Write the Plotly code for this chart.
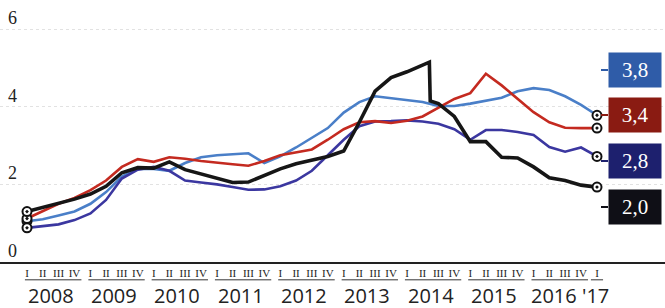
import pandas as pd
import plotly.graph_objects as go

# ---------------- data ----------------
quarters = pd.date_range("2008-01-01", "2017-01-01", freq="QS")  # 2008 Q1 .. 2017 Q1
quarter_labels = ["I", "II", "III", "IV"] * 9 + ["I"]
years = ["2008", "2009", "2010", "2011", "2012", "2013", "2014", "2015", "2016", "'17"]
y_ticks = [0, 2, 4, 6]
y_tick_labels = ["0", "2", "4", "6"]

blue_vals = [1.05, 1.10, 1.20, 1.30, 1.50, 1.80, 2.20, 2.40, 2.40, 2.35, 2.55, 2.70,
             2.75, 2.78, 2.80, 2.55, 2.72, 2.95, 3.20, 3.45, 3.85, 4.12, 4.27, 4.22,
             4.17, 4.12, 4.02, 4.02, 4.08, 4.15, 4.23, 4.40, 4.48, 4.43, 4.27, 4.05, 3.78]
navy_vals = [0.88, 0.92, 0.97, 1.08, 1.25, 1.60, 2.15, 2.38, 2.45, 2.35, 2.10, 2.05,
             2.00, 1.93, 1.86, 1.87, 1.95, 2.10, 2.35, 2.75, 3.15, 3.50, 3.62, 3.63,
             3.65, 3.62, 3.56, 3.42, 3.15, 3.40, 3.40, 3.35, 3.27, 2.96, 2.84, 2.95, 2.72]
red_vals = [1.12, 1.30, 1.50, 1.65, 1.85, 2.10, 2.45, 2.65, 2.58, 2.70, 2.66, 2.60,
            2.55, 2.52, 2.48, 2.60, 2.75, 2.82, 2.90, 3.15, 3.42, 3.60, 3.63, 3.58,
            3.64, 3.75, 3.98, 4.20, 4.35, 4.85, 4.55, 4.20, 3.86, 3.60, 3.46, 3.45, 3.45]
black_dates = (list(quarters[:26].strftime("%Y-%m-%d")) + ["2014-05-10", "2014-05-15"]
               + list(quarters[26:].strftime("%Y-%m-%d")))
black_vals = [1.30, 1.40, 1.52, 1.62, 1.75, 1.95, 2.30, 2.43, 2.42, 2.58, 2.38, 2.27,
              2.15, 2.05, 2.06, 2.22, 2.40, 2.53, 2.62, 2.72, 2.86, 3.60, 4.40, 4.75,
              4.90, 5.07, 5.15, 4.15, 4.08, 3.75, 3.10, 3.10, 2.70, 2.68, 2.45, 2.17,
              2.10, 1.98, 1.93]

end_labels = ["3,8", "3,4", "2,8", "2,0"]

# ---------------- styles ----------------
colors = {"blue": "#4a7fc8", "navy": "#3b37a0", "red": "#c42a20", "black": "#161616"}
box_colors = ["#2f5ca8", "#8a1b12", "#1d206e", "#0f0f16"]
SERIF = "Liberation Serif, DejaVu Serif, serif"
SANS = "Open Sans, Noto Sans, sans-serif"

fig = go.Figure()
qstr = list(quarters.strftime("%Y-%m-%d"))
series = [
    ("blue", qstr, blue_vals, 2.6),
    ("navy", qstr, navy_vals, 2.6),
    ("red", qstr, red_vals, 2.6),
    ("black", black_dates, black_vals, 3.6),
]
for name, xs, ys, w in series:
    fig.add_trace(go.Scatter(x=xs, y=ys, mode="lines",
                             line=dict(color=colors[name], width=w),
                             hoverinfo="skip", showlegend=False))
# start / end markers
for name, xs, ys, w in series:
    fig.add_trace(go.Scatter(x=[xs[0], xs[-1]], y=[ys[0], ys[-1]], mode="markers",
                             marker=dict(symbol="circle-dot", size=9, color="white",
                                         line=dict(color="#111", width=2)),
                             hoverinfo="skip", showlegend=False))

# x range: map 2008Q1 -> 27px, 2017Q1 -> 597px on a 665px wide plot
W = 665
x0_px, x1_px = 27, 597
span_days = (quarters[-1] - quarters[0]).days
px_per_day = (x1_px - x0_px) / span_days
x_start = quarters[0] - pd.Timedelta(days=x0_px / px_per_day)
x_end = quarters[-1] + pd.Timedelta(days=(W - x1_px) / px_per_day)

fig.update_xaxes(type="date", range=[x_start, x_end],
                 tickvals=list(quarters), ticktext=quarter_labels,
                 tickfont=dict(family=SERIF, size=11, color="#222"),
                 ticks="", showgrid=False, zeroline=False, automargin=False,
                 showline=True, linecolor="#222", linewidth=1.5)
fig.update_yaxes(range=[0, 6.75], tickvals=y_ticks, showticklabels=False,
                 showgrid=True, gridcolor="#e2e2e2", griddash="dot", gridwidth=1,
                 zeroline=False, showline=False, automargin=False)

annotations = []
shapes = []
# y tick labels above gridlines
for v, t in zip(y_ticks, y_tick_labels):
    annotations.append(dict(x=0, xref="paper", xshift=12, y=v, yref="y", yshift=11,
                            xanchor="center", yanchor="middle",
                            text=t, showarrow=False,
                            font=dict(family=SERIF, size=18, color="#222")))
# year labels with underlines
for i, yr in enumerate(years):
    q0 = quarters[4 * i]
    if i < len(years) - 1:
        q3 = quarters[4 * i + 3]
        left = q0 - pd.Timedelta(days=12)
        right = q3 + pd.Timedelta(days=40)
        center = q0 + (q3 - q0) / 2
        if i == len(years) - 2:
            center = center - pd.Timedelta(days=20)
    else:
        left = q0 - pd.Timedelta(days=35)
        right = q0 + pd.Timedelta(days=35)
        center = q0 - pd.Timedelta(days=10)
    shapes.append(dict(type="line", xref="x", yref="paper", x0=left, x1=right,
                       y0=-0.068, y1=-0.068, line=dict(color="#333", width=1)))
    annotations.append(dict(x=center, xref="x", y=0, yref="paper", yshift=-33,
                            text=yr, showarrow=False, xanchor="center", yanchor="middle",
                            font=dict(family=SANS, size=20, color="#222")))
# end value boxes
box_centers = [70, 115, 161, 207]
H_PLOT = 262
for lab, bc, yc in zip(end_labels, box_colors, box_centers):
    py = (H_PLOT - yc) / H_PLOT
    annotations.append(dict(x=635 / W, xref="paper", y=py, yref="paper",
                            xanchor="center", yanchor="middle",
                            text=lab, showarrow=False, width=50, height=32,
                            bgcolor=bc, borderpad=1,
                            font=dict(family=SERIF, size=21, color="white")))
    shapes.append(dict(type="line", xref="paper", yref="paper",
                       x0=601 / W, x1=608 / W, y0=py, y1=py,
                       line=dict(color=bc, width=2)))

fig.update_layout(width=665, height=308, margin=dict(l=0, r=0, t=0, b=46),
                  paper_bgcolor="white", plot_bgcolor="white",
                  annotations=annotations, shapes=shapes, showlegend=False)

fig.write_html("out.html", config={"displayModeBar": False},
               post_script="document.body.style.margin='0px';")
